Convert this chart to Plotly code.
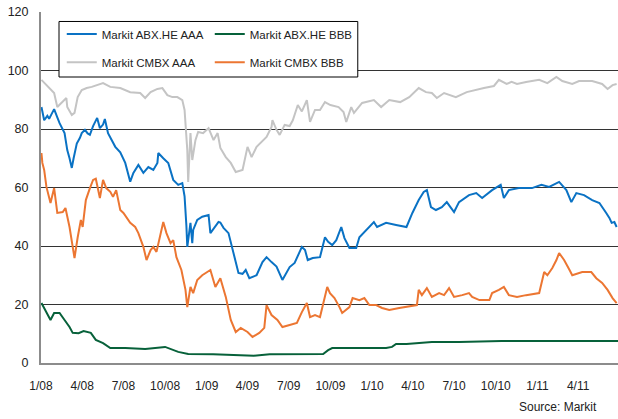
import plotly.graph_objects as go

# ---------------- data ----------------
abx_aaa_dates = ["2008-01-02","2008-01-08","2008-01-15","2008-01-19","2008-01-24","2008-01-30","2008-02-06","2008-02-11","2008-02-22","2008-02-28",
 "2008-03-04","2008-03-09","2008-03-13","2008-03-20","2008-03-27","2008-03-31","2008-04-07","2008-04-13","2008-04-18","2008-04-25",
 "2008-05-04","2008-05-10","2008-05-17","2008-05-21","2008-05-28","2008-06-06","2008-06-13","2008-06-24","2008-07-05","2008-07-16",
 "2008-07-23","2008-08-03","2008-08-14","2008-08-25","2008-09-05","2008-09-14","2008-09-16","2008-09-27","2008-10-08","2008-10-19",
 "2008-10-30","2008-11-08","2008-11-13","2008-11-17","2008-11-19","2008-11-26","2008-11-30","2008-12-02","2008-12-11","2008-12-22",
 "2009-01-05","2009-01-09","2009-01-20","2009-01-27","2009-01-31","2009-02-07","2009-02-18","2009-03-01","2009-03-12","2009-03-21",
 "2009-03-28","2009-04-05","2009-04-21","2009-05-04","2009-05-13","2009-05-24","2009-06-04","2009-06-17","2009-06-28","2009-07-03",
 "2009-07-14","2009-07-30","2009-08-06","2009-08-12","2009-08-23","2009-09-08","2009-09-19","2009-09-26","2009-10-05","2009-10-14",
 "2009-10-25","2009-11-01","2009-11-12","2009-11-27","2009-12-04","2009-12-19","2010-01-05","2010-01-12","2010-02-01","2010-02-23",
 "2010-03-18","2010-03-31","2010-04-14","2010-04-25","2010-05-02","2010-05-11","2010-05-22","2010-06-04","2010-06-15","2010-07-01",
 "2010-07-12","2010-08-03","2010-08-19","2010-09-01","2010-09-23","2010-10-12","2010-10-19","2010-10-30","2010-11-21","2010-12-20",
 "2011-01-10","2011-01-27","2011-02-18","2011-03-06","2011-03-17","2011-03-28","2011-04-14","2011-05-02","2011-05-18","2011-06-02",
 "2011-06-09","2011-06-14","2011-06-20","2011-06-25"]
abx_aaa_values = [87.5,83.0,84.5,83.5,85.0,86.8,84.0,82.0,78.6,72.8,
 70.0,66.7,70.0,75.0,77.0,78.6,79.7,78.5,78.0,81.0,
 83.8,80.3,81.5,83.4,78.6,76.0,73.9,72.0,68.4,62.0,
 65.0,67.7,65.0,67.0,66.0,68.4,71.8,70.0,68.4,62.6,
 60.9,61.5,57.0,47.0,39.7,47.9,41.0,45.5,48.9,50.0,
 50.6,44.4,46.5,48.2,48.0,46.2,44.4,37.6,30.8,30.5,
 31.8,29.0,30.0,34.5,36.2,34.5,33.0,28.4,31.8,32.8,
 34.2,39.7,38.6,35.2,35.9,36.2,43.0,41.4,40.3,42.0,
 46.5,42.7,39.3,39.3,43.0,45.5,48.2,46.5,47.9,47.2,
 46.5,51.3,55.7,58.5,59.1,53.3,52.3,53.3,55.0,51.6,
 55.0,57.4,58.1,56.4,59.1,60.9,56.4,59.1,59.8,59.8,
 60.9,60.2,61.9,59.1,55.0,58.1,57.4,55.7,54.7,51.3,
 49.6,47.9,48.2,46.5]

abx_bbb_dates = ["2008-01-02","2008-01-11","2008-01-22","2008-01-30","2008-02-11","2008-02-22","2008-03-04","2008-03-11","2008-03-24","2008-04-04",
 "2008-04-20","2008-05-01","2008-05-17","2008-06-02","2008-07-05","2008-08-18","2008-10-01","2008-10-30","2008-11-21","2009-01-15",
 "2009-03-17","2009-04-15","2009-05-20","2009-07-20","2009-09-15","2009-09-26","2009-10-05","2009-11-10","2010-02-01","2010-02-14",
 "2010-02-23","2010-03-18","2010-04-14","2010-05-13","2010-07-12","2010-10-14","2011-06-28"]
abx_bbb_values = [20.5,18.1,14.7,17.1,17.1,14.7,12.3,10.3,10.2,10.9,
 10.3,7.9,6.8,5.1,5.1,4.8,5.5,3.8,3.1,3.0,
 2.7,2.5,3.0,3.0,3.1,4.4,5.1,5.1,5.1,5.5,
 6.5,6.5,6.8,7.2,7.2,7.5,7.5]

cmbx_aaa_dates = ["2008-01-02","2008-01-13","2008-01-24","2008-01-30","2008-02-06","2008-02-15","2008-02-26","2008-02-28","2008-03-09","2008-03-15",
 "2008-03-22","2008-03-31","2008-04-11","2008-04-22","2008-05-04","2008-05-17","2008-06-02","2008-06-24","2008-07-16","2008-08-07",
 "2008-08-18","2008-08-30","2008-09-14","2008-09-25","2008-10-06","2008-10-17","2008-10-28","2008-11-08","2008-11-13","2008-11-15",
 "2008-11-19","2008-11-21","2008-11-26","2008-11-30","2008-12-07","2008-12-13","2008-12-24","2009-01-05","2009-01-16","2009-01-25",
 "2009-01-31","2009-02-12","2009-02-23","2009-03-06","2009-03-21","2009-04-01","2009-04-10","2009-04-21","2009-05-02","2009-05-13",
 "2009-05-24","2009-05-26","2009-06-04","2009-06-11","2009-06-22","2009-07-03","2009-07-10","2009-07-21","2009-07-30","2009-08-10",
 "2009-08-17","2009-08-28","2009-09-08","2009-09-19","2009-10-01","2009-10-19","2009-10-30","2009-11-05","2009-11-16","2009-11-22",
 "2009-12-10","2010-01-05","2010-01-21","2010-02-08","2010-03-04","2010-03-24","2010-04-14","2010-04-30","2010-05-13","2010-05-24",
 "2010-06-09","2010-07-05","2010-07-29","2010-08-19","2010-09-05","2010-09-27","2010-10-08","2010-10-25","2010-11-05","2010-11-17",
 "2010-12-07","2011-01-05","2011-01-23","2011-02-12","2011-02-25","2011-03-19","2011-04-03","2011-05-02","2011-05-24","2011-06-05",
 "2011-06-16","2011-06-25"]
cmbx_aaa_values = [96.8,95.0,93.3,92.3,87.5,88.9,90.6,87.5,84.8,85.5,
 90.9,93.3,94.0,94.4,95.0,95.7,94.4,94.0,92.6,92.3,
 90.6,92.6,93.7,94.0,91.6,90.9,90.9,89.9,86.5,80.7,
 72.8,61.9,78.6,69.4,76.2,79.0,78.6,80.3,76.2,78.6,
 73.5,70.4,68.4,65.3,66.0,73.9,70.4,73.9,75.6,77.3,
 80.7,83.0,79.7,78.0,81.4,81.0,83.0,88.2,86.0,89.9,
 82.4,86.5,86.5,89.2,88.2,87.5,85.8,82.4,87.5,85.5,
 88.9,89.9,87.5,89.9,89.2,90.9,94.0,92.6,92.3,90.6,
 92.3,90.9,92.6,93.5,94.0,94.7,96.8,95.4,96.1,95.4,
 96.1,96.8,95.7,97.8,96.4,95.4,96.4,96.4,95.4,93.7,
 95.0,95.4]

cmbx_bbb_dates = ["2008-01-02","2008-01-04","2008-01-08","2008-01-13","2008-01-22","2008-01-30","2008-02-06","2008-02-18","2008-02-24","2008-03-04",
 "2008-03-11","2008-03-15","2008-03-22","2008-03-29","2008-04-02","2008-04-09","2008-04-18","2008-04-25","2008-05-01","2008-05-10",
 "2008-05-17","2008-05-24","2008-06-02","2008-06-08","2008-06-15","2008-06-24","2008-07-01","2008-07-16","2008-07-27","2008-08-03",
 "2008-08-14","2008-08-21","2008-08-30","2008-09-05","2008-09-12","2008-09-21","2008-09-27","2008-10-04","2008-10-13","2008-10-19",
 "2008-10-26","2008-11-06","2008-11-15","2008-11-19","2008-11-26","2008-12-02","2008-12-11","2008-12-22","2009-01-09","2009-01-20",
 "2009-01-31","2009-02-12","2009-02-23","2009-03-06","2009-03-17","2009-04-01","2009-04-12","2009-04-27","2009-05-08","2009-05-13",
 "2009-05-24","2009-06-06","2009-06-17","2009-07-03","2009-07-19","2009-07-30","2009-08-10","2009-08-17","2009-08-28","2009-09-08",
 "2009-09-15","2009-09-24","2009-09-30","2009-10-10","2009-10-21","2009-10-27","2009-11-12","2009-11-19","2009-12-04","2009-12-15",
 "2009-12-26","2010-01-10","2010-01-23","2010-02-08","2010-03-02","2010-03-24","2010-04-10","2010-04-14","2010-04-21","2010-05-02",
 "2010-05-13","2010-05-29","2010-06-09","2010-06-20","2010-07-01","2010-07-19","2010-08-03","2010-08-10","2010-08-26","2010-09-17",
 "2010-09-23","2010-10-08","2010-10-19","2010-10-30","2010-11-17","2010-12-07","2011-01-05","2011-01-16","2011-01-23","2011-02-03",
 "2011-02-12","2011-02-18","2011-03-01","2011-03-13","2011-03-19","2011-04-10","2011-04-30","2011-05-11","2011-05-24","2011-06-05",
 "2011-06-16","2011-06-25"]
cmbx_bbb_values = [71.8,68.4,66.0,60.2,54.7,59.8,51.3,51.6,53.0,46.5,
 39.7,35.9,43.0,48.9,46.5,55.7,59.8,62.6,63.0,56.4,
 62.6,59.8,58.5,56.8,59.1,52.3,51.3,47.9,46.5,44.4,
 39.7,35.2,38.6,39.7,38.0,44.4,48.2,44.4,41.0,42.0,
 36.2,31.8,25.0,19.1,26.0,23.9,28.4,30.0,31.8,26.0,
 29.0,22.6,14.7,10.6,12.0,10.6,8.9,10.3,12.0,19.8,
 16.4,14.7,12.3,13.0,13.7,17.4,20.5,15.7,16.4,15.7,
 20.5,26.0,23.9,22.2,19.1,17.1,19.1,22.2,21.5,22.2,
 19.8,19.8,18.8,18.1,18.8,19.5,19.8,25.0,23.2,25.6,
 22.6,23.9,23.2,25.6,22.6,23.2,23.9,22.6,21.5,21.5,
 23.9,25.0,26.0,23.2,22.6,23.2,23.9,31.1,30.0,32.5,
 35.2,37.6,35.2,31.8,30.0,31.1,31.1,29.0,27.4,25.0,
 22.2,20.5]

series_names = ["Markit ABX.HE AAA", "Markit ABX.HE BBB", "Markit CMBX AAA", "Markit CMBX BBB"]
tick_dates = ["2008-01-01","2008-04-01","2008-07-01","2008-10-01","2009-01-01","2009-04-01","2009-07-01",
              "2009-10-01","2010-01-01","2010-04-01","2010-07-01","2010-10-01","2011-01-01","2011-04-01"]
tick_labels = ["1/08","4/08","7/08","10/08","1/09","4/09","7/09","10/09","1/10","4/10","7/10","10/10","1/11","4/11"]
y_ticks = [0, 20, 40, 60, 80, 100, 120]
source_text = "Source: Markit"

# ---------------- figure ----------------
FONT = "Liberation Sans, Arial, sans-serif"
colors = ["#0a72c4", "#07613a", "#c4c4c4", "#ec7632"]

fig = go.Figure()
data = [(abx_aaa_dates, abx_aaa_values), (abx_bbb_dates, abx_bbb_values),
        (cmbx_aaa_dates, cmbx_aaa_values), (cmbx_bbb_dates, cmbx_bbb_values)]
legends = ["legend", "legend", "legend2", "legend2"]
for (d, v), name, c, lg in zip(data, series_names, colors, legends):
    fig.add_trace(go.Scatter(x=d, y=v, mode="lines", name=name,
                             line=dict(color=c, width=2), legend=lg))

fig.update_layout(
    width=618, height=419,
    margin=dict(l=41, r=0, t=12, b=56),
    paper_bgcolor="white", plot_bgcolor="white",
    font=dict(family=FONT, size=12, color="#222222"),
    showlegend=True,
    legend=dict(orientation="h", x=0.036, y=0.937, xanchor="left", yanchor="middle",
                bgcolor="rgba(0,0,0,0)", borderwidth=0, entrywidth=103,
                font=dict(family=FONT, size=11.5, color="#222222")),
    legend2=dict(orientation="h", x=0.036, y=0.857, xanchor="left", yanchor="middle",
                 bgcolor="rgba(0,0,0,0)", borderwidth=0, entrywidth=103,
                 font=dict(family=FONT, size=11.5, color="#222222")),
    shapes=[dict(type="rect", xref="paper", yref="paper", x0=0.0312, x1=0.549, y0=0.8148, y1=0.973,
                 line=dict(color="black", width=1), fillcolor="white", layer="above")],
    annotations=[dict(text=source_text, xref="paper", yref="paper", x=0.967, y=-0.125,
                      xanchor="right", yanchor="middle", showarrow=False,
                      font=dict(family=FONT, size=12, color="#222222"))],
)
fig.update_xaxes(type="date", range=["2008-01-01", "2011-06-28"],
                 tickvals=tick_dates, ticktext=tick_labels,
                 showgrid=False, showline=True, linecolor="#8c8c8c", linewidth=2,
                 ticks="outside", ticklen=11, tickcolor="rgba(0,0,0,0)",
                 tickfont=dict(family=FONT, size=12, color="#222222"), zeroline=False)
fig.update_yaxes(range=[0, 120], tickvals=y_ticks,
                 showgrid=True, gridcolor="#333333", gridwidth=1,
                 showline=True, linecolor="#8c8c8c", linewidth=2,
                 ticks="outside", ticklen=8, tickcolor="rgba(0,0,0,0)",
                 tickfont=dict(family=FONT, size=12.5, color="#222222"), zeroline=False)

fig.write_html("out.html", config={"displayModeBar": False},
               post_script="document.body.style.margin='0';document.body.style.padding='0';")
